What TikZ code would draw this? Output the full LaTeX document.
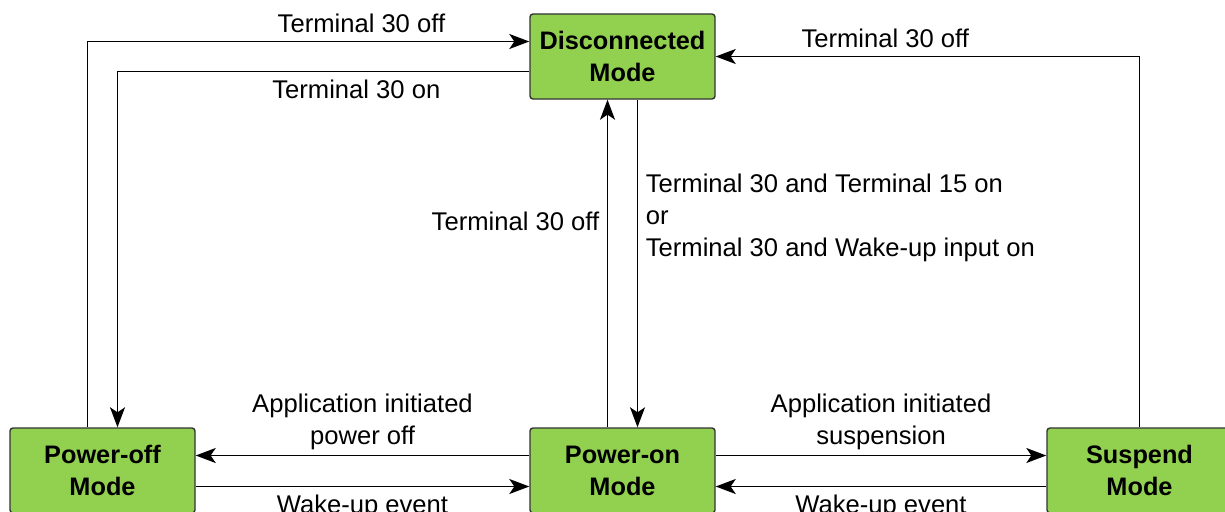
\documentclass[tikz,border=0pt]{standalone}
\usepackage{fontspec}
\setmainfont{Liberation Sans}
\usepackage{xcolor}
\usepackage{tikz}
\usetikzlibrary{arrows.meta}
\definecolor{modegreen}{HTML}{92D050}
\definecolor{modeborder}{HTML}{333333}

\begin{document}
\begin{tikzpicture}[x=1pt, y=-1pt,
            mode/.style={draw=modeborder,
            fill=modegreen,
            line width=1.4pt,
            rounded corners=3pt,
            minimum width=185pt,
            minimum height=85pt,
            inner sep=0pt,
            align=center,
            font=\fontsize{25.3}{32}\selectfont\bfseries},
            lbl/.style={inner sep=7.5pt,
            align=center,
            font=\fontsize{25.6}{32}\selectfont},
            >={Stealth[length=20pt, width=15pt, inset=5pt]}, line width=1.7pt]
            \useasboundingbox (0,0) rectangle (1225,511);
            \node[mode] at (622.5,56.5) (disc) {Disconnected\\Mode};
            \node[mode] at (102.5,470.5) (poff) {Power-off\\Mode};
            \node[mode] at (622.5,470.5) (pon) {Power-on\\Mode};
            \node[mode] at (1139.5,470.5) (susp) {Suspend\\Mode};
            % to and from the disconnected mode
            \draw[->] ([xshift=-15pt]poff.north) |- ([yshift=15pt]disc.west) node[lbl, pos=0.81, above] {Terminal 30 off};
            \draw[->] ([yshift=-15pt]disc.west) -| ([xshift=15pt]poff.north) node[lbl, pos=0.21, below] {Terminal 30 on};
            \draw[->] ([xshift=-15pt]pon.north) -- ([xshift=-15pt]disc.south) node[lbl, pos=0.63, left] {Terminal 30 off};
            \draw[->] ([xshift=15pt]disc.south) -- ([xshift=15pt]pon.north) node[lbl, pos=0.36, right, align=left] {Terminal 30 and Terminal 15 on\\or\\Terminal 30 and Wake-up input on};
            \draw[->] (susp.north) |- (disc.east) node[lbl, pos=0.8, above] {Terminal 30 off};
            % along the bottom row
            \draw[->] ([yshift=15pt]pon.west) -- ([yshift=15pt]poff.east) node[lbl, midway, above, yshift=-3pt] {Application initiated\\power off};
            \draw[->] ([yshift=-16pt]poff.east) -- ([yshift=-16pt]pon.west) node[lbl, midway, below] {Wake-up event};
            \draw[->] ([yshift=15pt]pon.east) -- ([yshift=15pt]susp.west) node[lbl, midway, above, yshift=-3pt] {Application initiated\\suspension};
            \draw[->] ([yshift=-16pt]susp.west) -- ([yshift=-16pt]pon.east) node[lbl, midway, below] {Wake-up event};
        \end{tikzpicture}
\end{document}
